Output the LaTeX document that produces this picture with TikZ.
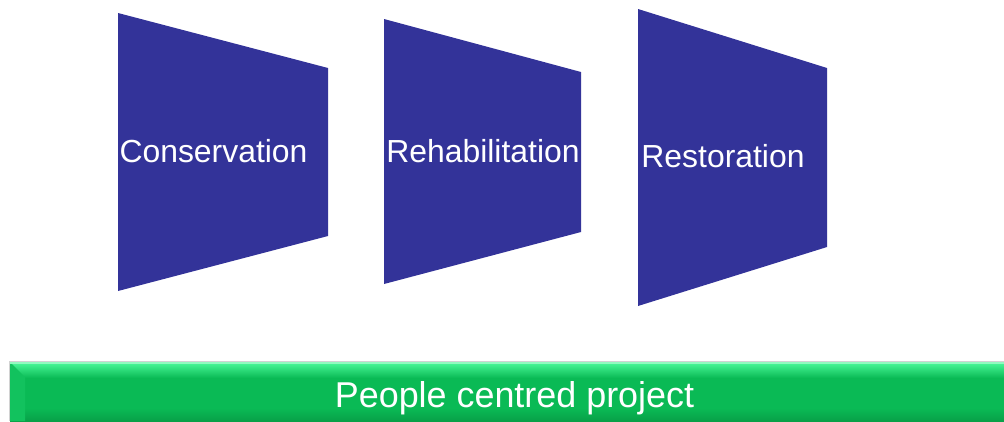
\documentclass[tikz,border=0pt]{standalone}
\usepackage{fontspec}
\setmainfont{Liberation Sans}

\definecolor{stageblue}{RGB}{51,51,153}
\definecolor{bargreen}{RGB}{10,186,85}
\definecolor{barlight}{RGB}{72,246,150}
\definecolor{barbevel}{RGB}{18,194,94}
\definecolor{bardark}{RGB}{8,160,72}

\begin{document}
\begin{tikzpicture}[x=1pt,y=-1pt,
    stagetext/.style={text=white, font=\fontsize{31.9}{36}\selectfont, inner sep=0pt, anchor=base},
    bartext/.style={text=white, font=\fontsize{35.9}{40}\selectfont, inner sep=0pt, anchor=base}]
    \useasboundingbox (0,0) rectangle (1004,421);

    % stages
    \fill[stageblue] (118,13) -- (328,68) -- (328,236) -- (118,291) -- cycle;
    \fill[stageblue] (384,19) -- (581,72) -- (581,232) -- (384,284) -- cycle;
    \fill[stageblue] (638,9) -- (827,68) -- (827,247) -- (638,306) -- cycle;

    \node[stagetext] (cons) at (213.5,162) {Conservation};
    \node[stagetext] (rehab) at (483,162) {Rehabilitation};
    \node[stagetext] (resto) at (723,167) {Restoration};

    % people centred bar
    \fill[gray!35] (9,361) rectangle (1004,421);
    \fill[bargreen] (10,362) rectangle (1004,421);
    \shade[top color=barlight, bottom color=bargreen] (10,363) rectangle (1004,378);
    \shade[top color=bargreen, bottom color=bardark] (10,408) rectangle (1004,421);
    \fill[barbevel] (10,362) -- (25,377) -- (25,421) -- (10,421) -- cycle;
    \fill[barlight!60!white] (10,362) rectangle (1004,363.5);

    \node[bartext] (people) at (514.5,407) {People centred project};
\end{tikzpicture}
\end{document}
